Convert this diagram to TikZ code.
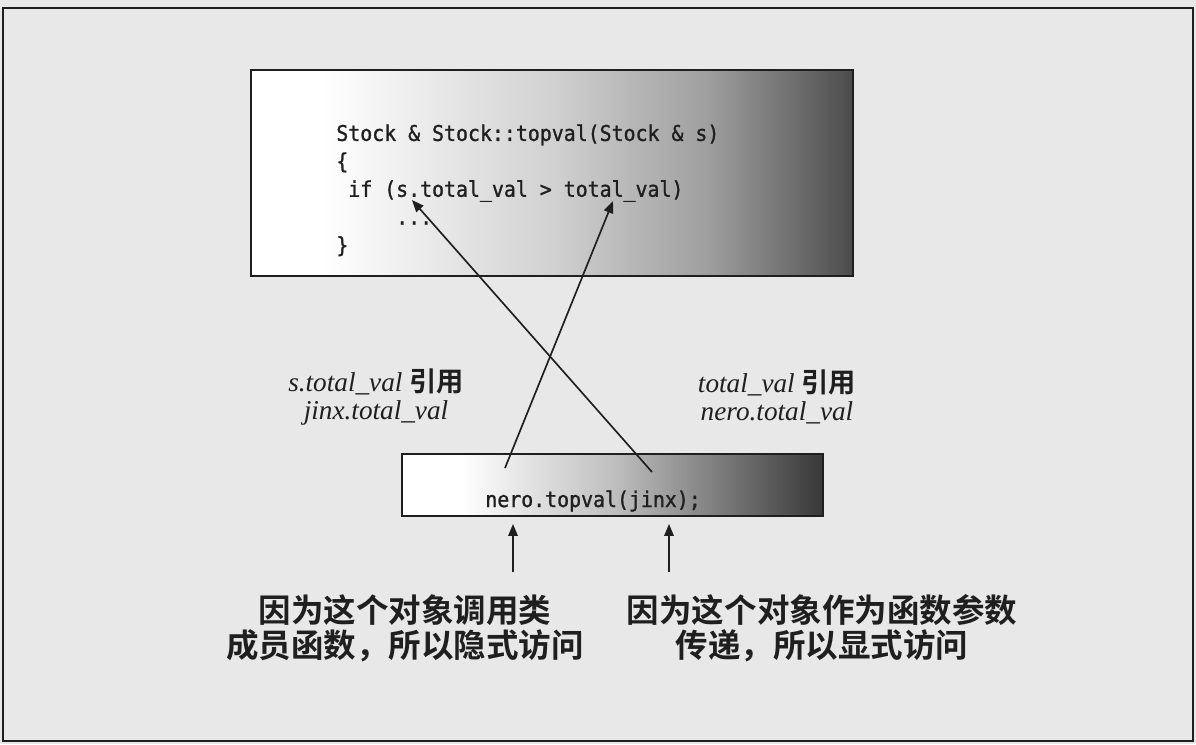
\documentclass[tikz,border=0pt]{standalone}
\usepackage{fontspec}
\usepackage{tikz}
\usetikzlibrary{arrows.meta}

\newfontfamily\codefont{DejaVu Sans Mono}[FakeStretch=0.92, FakeBold=1.2]
\newfontfamily\cjk{Noto Sans CJK SC Bold}
\newfontfamily\lblfont{Liberation Serif}

\definecolor{paper}{gray}{0.91}
\definecolor{ink}{gray}{0.12}
\pgfdeclarehorizontalshading{codefade}{100bp}{color(0bp)=(white); color(25bp)=(white); color(31bp)=(white); color(50bp)=(black!18); color(63bp)=(black!38); color(75bp)=(black!70); color(100bp)=(black!70)}
\pgfdeclarehorizontalshading{callfade}{100bp}{color(0bp)=(white); color(25bp)=(white); color(32bp)=(white); color(50bp)=(black!25); color(62bp)=(black!50); color(75bp)=(black!78); color(100bp)=(black!78)}

\begin{document}
\begin{tikzpicture}[
    x=0.02cm, y=-0.02cm,
    box/.style={draw=ink, line width=1.1pt, inner sep=0pt},
    code/.style={font=\codefont\fontsize{12.3}{15.9}\selectfont, align=left, inner sep=0pt, text=ink},
    lbl/.style={font=\lblfont\itshape\fontsize{15.5}{16}\selectfont, align=center, inner sep=0pt, text=ink},
    note/.style={font=\cjk\fontsize{18.5}{19.9}\selectfont, align=center, inner sep=0pt, text=ink},
    arr/.style={-{Triangle[length=2.4mm, width=1.9mm]}, line width=0.95pt, draw=ink}
]
\useasboundingbox (0,0) rectangle (1196,744);
\fill[paper] (0,0) rectangle (1196,744);
\draw[ink, line width=1.2pt] (3,8) rectangle (1193,741);

% the member function and the call
\node[box, shading=codefade, minimum width=12.04cm, minimum height=4.12cm] (codebox) at (552,173) {};
\node[box, shading=callfade, minimum width=8.42cm, minimum height=1.24cm] (callbox) at (612.5,485) {};

\node[code, anchor=north west] (src) at (336,124) {Stock \& Stock::topval(Stock \& s)\\
\{\\
\phantom{x}if (s.total\_val > total\_val)\\
\phantom{xxxxx}...\\
\}};
\node[code, anchor=base west] (call) at (485,507) {nero.topval(jinx);};

% who refers to what
\coordinate (sdot) at (412,200);
\coordinate (tval) at (613,201);
\coordinate (jinx) at (652,472);
\coordinate (nero) at (505,468);
\draw[arr] (jinx) -- (sdot);
\draw[arr] (nero) -- (tval);

\node[lbl] (sref) at (376,397) {s.total\_val {\cjk\upshape 引用}\\jinx.total\_val};
\node[lbl] (tref) at (777,397) {total\_val {\cjk\upshape 引用}\\nero.total\_val};

% the two kinds of access
\coordinate (impl) at (513,572);
\coordinate (expl) at (669,572);
\draw[arr] (impl) -- ([yshift=-0.14cm]callbox.south -| impl);
\draw[arr] (expl) -- ([yshift=-0.14cm]callbox.south -| expl);

\node[note] (implicit) at (405,628) {因为这个对象调用类\\成员函数，所以隐式访问};
\node[note] (explicit) at (822,628) {因为这个对象作为函数参数\\传递，所以显式访问};
\end{tikzpicture}
\end{document}
